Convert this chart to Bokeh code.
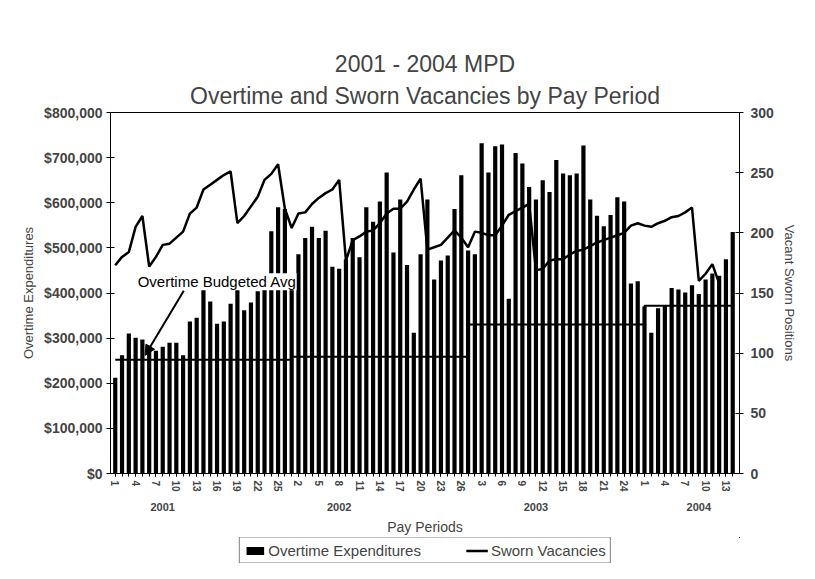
from bokeh.plotting import figure
from bokeh.layouts import column
from bokeh.models import (Range1d, LinearAxis, FixedTicker, NumeralTickFormatter, Title,
                          Legend, LegendItem, Label, Arrow, NormalHead, ColumnDataSource)
from bokeh.embed import file_html
from bokeh.resources import INLINE

FONT = "Liberation Sans"

# ---------------- data ----------------
years = ["2001", "2002", "2003", "2004"]
periods_per_year = [26, 26, 26, 14]

overtime_2001 = [212000, 262000, 310000, 301000, 297000, 283000, 272000, 281000, 290000, 290000,
                 262000, 337000, 345000, 410000, 381000, 332000, 337000, 376000, 408000, 362000,
                 379000, 404000, 419000, 537000, 590000, 586000]
overtime_2002 = [412000, 486000, 522000, 547000, 522000, 538000, 458000, 454000, 475000, 522000,
                 479000, 590000, 558000, 603000, 667000, 490000, 607000, 462000, 312000, 486000,
                 607000, 430000, 472000, 483000, 586000, 661000]
overtime_2003 = [494000, 486000, 732000, 667000, 725000, 729000, 387000, 710000, 687000, 635000,
                 607000, 650000, 624000, 695000, 665000, 661000, 665000, 727000, 607000, 571000,
                 548000, 573000, 612000, 603000, 421000, 426000]
overtime_2004 = [370000, 312000, 366000, 372000, 411000, 408000, 401000, 417000, 398000, 430000,
                 443000, 438000, 475000, 535000]

vacancies_2001 = [173, 180, 184, 205, 214, 172, 180, 190, 191, 196, 201, 216, 221, 236, 240, 244,
                  248, 251, 208, 214, 222, 230, 244, 249, 257, 220]
vacancies_2002 = [204, 216, 217, 224, 229, 233, 236, 244, 177, 194, 197, 201, 202, 208, 216, 220,
                  220, 226, 236, 245, 186, 188, 190, 196, 202, 196]
vacancies_2003 = [188, 201, 200, 198, 198, 206, 215, 218, 221, 224, 169, 170, 177, 178, 178, 182,
                  185, 186, 189, 192, 194, 196, 198, 200, 206, 208]
vacancies_2004 = [206, 205, 208, 210, 213, 214, 217, 221, 160, 166, 174, 158,
                  float("nan"), float("nan")]

budget_avg = [252000, 259000, 330000, 372000]   # overtime budgeted average per year

tick_every = 3
year_label_offset = [7, 7, 10, 8]   # where the year caption sits inside each year's periods

# ---------------- build series ----------------
overtime = overtime_2001 + overtime_2002 + overtime_2003 + overtime_2004
vacancies = vacancies_2001 + vacancies_2002 + vacancies_2003 + vacancies_2004
period_no, budget, year_start = [], [], []
for y, n, b in zip(years, periods_per_year, budget_avg):
    year_start.append(len(period_no) + 1)
    period_no += list(range(1, n + 1))
    budget += [b] * n
xs = list(range(1, len(overtime) + 1))

src = ColumnDataSource(dict(x=xs, ot=overtime, vac=vacancies, bud=budget, pp=period_no))

# ---------------- main figure ----------------
p = figure(width=799, height=537, output_backend="svg", toolbar_location=None, title=None,
           x_range=Range1d(0.3, len(xs) + 1.0), y_range=Range1d(0, 800000),
           min_border_left=110, min_border_right=55, min_border_top=112, min_border_bottom=51,
           background_fill_color="white", border_fill_color="white")
p.extra_y_ranges = {"vac": Range1d(0, 300)}
p.grid.visible = False
p.outline_line_color = "black"
p.outline_line_width = 1

p.add_layout(Title(text="Overtime and Sworn Vacancies by Pay Period", align="center",
                   text_font=FONT, text_font_size="23px", text_font_style="normal",
                   standoff=8), "above")
p.add_layout(Title(text="2001 - 2004 MPD", align="center",
                   text_font=FONT, text_font_size="23px", text_font_style="normal",
                   standoff=0), "above")

bars = p.vbar(x="x", top="ot", width=0.62, source=src, fill_color="black", line_color=None)
bline = p.step(x="x", y="bud", source=src, mode="after", line_color="black", line_width=2)
vline = p.line(x="x", y="vac", source=src, y_range_name="vac", line_color="black", line_width=2.5)

# left axis
ya = p.yaxis[0]
ya.ticker = FixedTicker(ticks=list(range(0, 800001, 100000)))
ya.formatter = NumeralTickFormatter(format="$0,0")
ya.axis_label = "Overtime Expenditures"
ya.major_tick_in = 4
ya.major_tick_out = 4
ya.minor_tick_line_color = None
ya.major_label_text_font = FONT
ya.major_label_text_font_size = "14px"
ya.major_label_text_font_style = "bold"
ya.axis_label_text_font = FONT
ya.axis_label_text_font_size = "13px"
ya.axis_label_text_font_style = "normal"
ya.axis_label_standoff = 5
ya.major_label_standoff = 4

# right axis
ra = LinearAxis(y_range_name="vac", ticker=FixedTicker(ticks=list(range(0, 301, 50))),
                axis_label="Vacant Sworn Positions")
ra.major_tick_in = 4
ra.major_tick_out = 4
ra.minor_tick_line_color = None
ra.major_label_text_font = FONT
ra.major_label_text_font_size = "14px"
ra.major_label_text_font_style = "bold"
ra.axis_label_text_font = FONT
ra.axis_label_text_font_size = "13px"
ra.axis_label_text_font_style = "normal"
ra.axis_label_standoff = 5
ra.major_label_standoff = 7
p.add_layout(ra, "right")

# x axis (pay periods)
label_x = [x for x, n in zip(xs, period_no) if (x - 1) % tick_every == 0]
xa = p.xaxis[0]
xa.ticker = FixedTicker(ticks=label_x, minor_ticks=xs)
xa.major_label_overrides = {x: str(period_no[x - 1]) for x in label_x}
xa.major_label_orientation = "vertical"
xa.major_label_text_font = FONT
xa.major_label_text_font_size = "10px"
xa.major_label_text_font_style = "bold"
xa.major_tick_in = 0
xa.major_tick_out = 3
xa.minor_tick_in = 0
xa.minor_tick_out = 3
xa.major_label_standoff = 4

# year captions + axis title
year_pos = [s + o for s, o in zip(year_start, year_label_offset)]
ya2 = LinearAxis(ticker=FixedTicker(ticks=year_pos),
                 major_label_overrides={yp: yr for yp, yr in zip(year_pos, years)},
                 axis_label="Pay Periods")
ya2.axis_line_color = None
ya2.major_tick_line_color = None
ya2.minor_tick_line_color = None
ya2.major_label_text_font = FONT
ya2.major_label_text_font_size = "11px"
ya2.major_label_text_font_style = "bold"
ya2.major_label_standoff = 2
ya2.axis_label_text_font = FONT
ya2.axis_label_text_font_size = "14px"
ya2.axis_label_text_font_style = "normal"
ya2.axis_label_standoff = 5
p.add_layout(ya2, "below")

# annotation for the budget line
lab = Label(x=4.3, y=425000, text="Overtime Budgeted Avg", text_font=FONT,
            text_font_size="15px", text_baseline="middle", text_color="black",
            background_fill_color="white", background_fill_alpha=1.0)
p.add_layout(lab)
arr = Arrow(end=NormalHead(size=10, fill_color="black", line_color="black"),
            x_start=11.1, y_start=405000, x_end=5.4, y_end=262000,
            line_color="black", line_width=2)
p.add_layout(arr)

# ---------------- legend strip below the chart ----------------
# the legend strip reuses the chart's own source; its ranges keep the marks out of view,
# so only the legend swatches show
lf = figure(width=799, height=26, output_backend="svg", toolbar_location=None,
            x_range=Range1d(-3, -2), y_range=Range1d(-3, -2), min_border=0,
            background_fill_color="white", border_fill_color="white")
lf.axis.visible = False
lf.grid.visible = False
lf.outline_line_color = None
lg_bar = lf.vbar(x="x", top="ot", width=0.62, source=src, fill_color="black", line_color=None)
lg_line = lf.line(x="x", y="vac", source=src, line_color="black", line_width=2.5)
legend = Legend(items=[LegendItem(label="Overtime Expenditures", renderers=[lg_bar]),
                       LegendItem(label="Sworn Vacancies", renderers=[lg_line])],
                orientation="horizontal", location="center",
                border_line_color="black", border_line_width=1,
                label_text_font=FONT, label_text_font_size="15px",
                glyph_width=22, glyph_height=10, spacing=45, padding=4, margin=0,
                label_standoff=3, background_fill_color="white")
lf.add_layout(legend, "center")

layout = column(p, lf, spacing=0)
open("out.html", "w").write(file_html(layout, INLINE))
